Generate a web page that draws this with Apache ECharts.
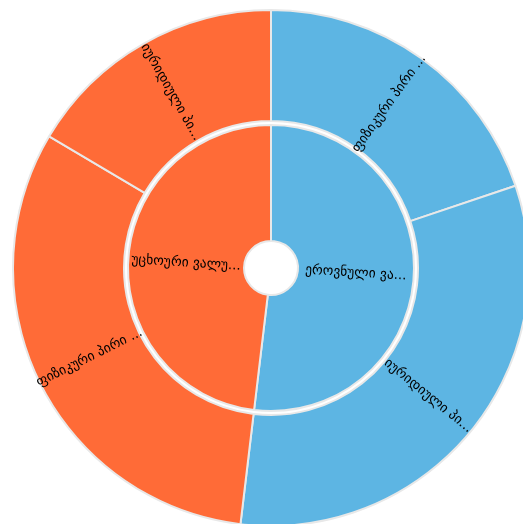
<!DOCTYPE html>
<html>
<head>
<meta charset="utf-8">
<script src="https://cdn.jsdelivr.net/npm/echarts@6/dist/echarts.min.js"></script>
<style>
  html, body { margin: 0; padding: 0; background: #fff; }
  #chart { width: 523px; height: 524px; }
</style>
</head>
<body>
<div id="chart"></div>
<script>
// Currency groups (inner ring) and borrower types (outer ring)
const currencies = ['ეროვნული ვალუტა', 'უცხოური ვალუტა'];
const currencyColors = ['#5DB5E3', '#FF6B37'];
const borrowerTypes = {
  'ეროვნული ვალუტა': ['ფიზიკური პირი ეროვნულ ვალუტაში', 'იურიდიული პირი ეროვნულ ვალუტაში'],
  'უცხოური ვალუტა': ['ფიზიკური პირი უცხოურ ვალუტაში', 'იურიდიული პირი უცხოურ ვალუტაში']
};
const nationalValues = [71.4, 115.4];
const foreignValues = [113.9, 59.3];
const valuesByCurrency = [nationalValues, foreignValues];

const LABEL_SIZE = 13.5;
const LABEL_FAMILY = 'DejaVu Sans';
const measureCtx = document.createElement('canvas').getContext('2d');
measureCtx.font = LABEL_SIZE + 'px "' + LABEL_FAMILY + '"';

// Cut a label so that it (with its ellipsis) fits into maxWidth pixels
function fitLabel(text, maxWidth) {
  if (measureCtx.measureText(text).width <= maxWidth) return text;
  let cut = text.length;
  while (cut > 0 && measureCtx.measureText(text.slice(0, cut) + '...').width > maxWidth) cut--;
  return text.slice(0, cut) + '...';
}

const data = currencies.map((name, i) => ({
  name: name,
  itemStyle: { color: currencyColors[i] },
  label: { formatter: p => fitLabel(p.name, 112) },
  children: borrowerTypes[name].map((child, j) => ({
    name: child,
    value: valuesByCurrency[i][j],
    itemStyle: { color: currencyColors[i] },
    label: { formatter: p => fitLabel(p.name, 117) }
  }))
}));

const chart = echarts.init(document.getElementById('chart'));
chart.setOption({
  animation: false,
  series: [{
    type: 'sunburst',
    center: [271, 268],
    sort: null,
    startAngle: 90,
    data: data,
    itemStyle: { borderColor: '#e8e8e8', borderWidth: 2 },
    label: {
      rotate: 'radial',
      color: '#000',
      fontSize: LABEL_SIZE,
      fontFamily: LABEL_FAMILY
    },
    emphasis: { disabled: true },
    levels: [
      {},
      { r0: 27, r: 143 },
      { r0: 147, r: 258 }
    ]
  }]
});
</script>
</body>
</html>
